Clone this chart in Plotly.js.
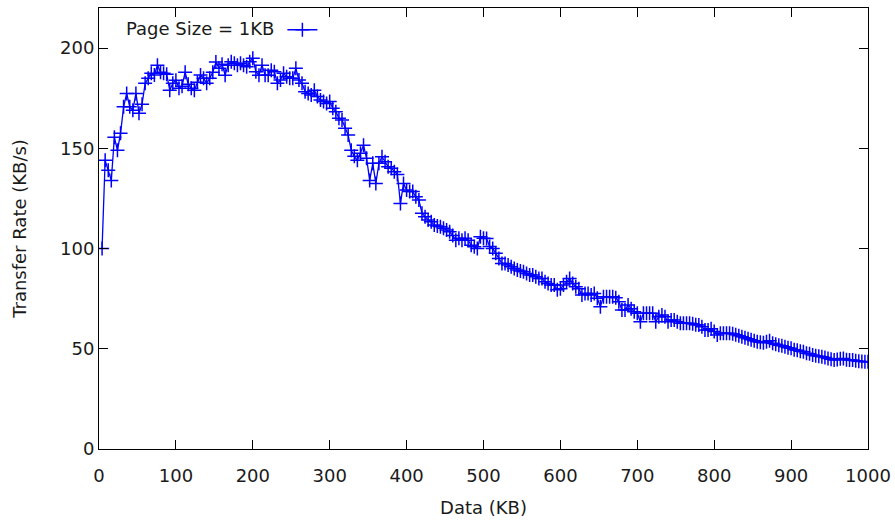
<!DOCTYPE html>
<html>
<head>
<meta charset="utf-8">
<script src="https://cdn.plot.ly/plotly-3.0.1.min.js"></script>
<style>
html,body{margin:0;padding:0;background:#fff;}
#chart{width:895px;height:520px;}
</style>
</head>
<body>
<div id="chart"></div>
<script>
// ---- data (Transfer Rate in KB/s, one reading every 4 KB of data, 4..1000 KB) ----
const seriesName = 'Page Size = 1KB';
const stepKB = 4;
const rate004to160 = [100, 144, 139, 134, 155.5, 149, 157.5, 170.7, 177.4, 170.7,
  169, 177.4, 167.5, 172, 182.4, 185, 187.4, 186.6, 191.5, 188,
  187.4, 187, 179, 182.4, 184, 180, 181, 188, 182, 180,
  179, 183, 186.6, 185, 182.4, 185, 188, 193, 190, 192];
const rate164to324 = [186.5, 191.5, 193.2, 192.4, 191.5, 192.4, 191.5, 190.7, 193.2, 194.9,
  188.2, 186.5, 191.5, 186.5, 186.5, 189, 188.2, 182.4, 184.1, 187.4,
  185.7, 184.9, 184.9, 189.9, 184.1, 182.4, 178.2, 177.4, 176.6, 179,
  175.8, 174.1, 173.3, 172.4, 173.3, 170, 168.3, 165, 164.1, 160,
  156.6];
const rate328to500 = [149, 146, 144, 147.5, 151.5, 145, 134, 142.5, 132.5, 142.5,
  145.8, 143.3, 140.8, 140, 138.3, 137, 122.5, 132.5, 129.2, 128.4,
  128.4, 125.8, 124.2, 117.6, 115.9, 114.2, 113.4, 111.7, 111.2, 110.9,
  110.1, 109.2, 108.4, 106.5, 104.2, 105.1, 104.2, 105.1, 104.2, 101.7,
  100.9, 100, 105.9, 105.1];
const rate504to668 = [105, 101, 100, 97.6, 95, 92.6, 92.6, 91.8, 90.9, 90.1,
  89.3, 88.8, 88.4, 87.6, 86.8, 86.8, 85.9, 85.1, 85.1, 83.4,
  82.6, 81.8, 81.8, 79.5, 80, 81.8, 83.4, 85, 82.6, 81,
  80, 76.8, 77.6, 77.6, 76.8, 77.6, 75.2, 71, 76, 76,
  76, 76];
const rate672to836 = [75.5, 73.5, 69.3, 69.3, 71.8, 70, 68.5, 67.7, 63.5, 67.7,
  67.7, 67.7, 67.7, 63.5, 66, 66.8, 66, 63.5, 64.3, 64.3,
  63.5, 62.7, 62.7, 62.7, 62.7, 62.5, 62, 61.8, 61, 59.4,
  59.4, 60, 58.6, 56.9, 57.7, 57.7, 57.7, 57.7, 57.5, 57,
  56.5, 56];
const rate840to1000 = [55.5, 55, 54.5, 54, 53.5, 53.3, 53, 53.5, 54, 52.7,
  52.2, 51.8, 51.5, 51, 50.5, 50.2, 49.5, 49.3, 48.8, 48.5,
  47.8, 47.5, 46.9, 46.5, 46.3, 46, 45.6, 45.2, 44.8, 44.4,
  44.6, 45, 45.2, 44.5, 44.4, 44.4, 44, 43.8, 43.6, 43.5,
  43.5];
const xTickVals = [0, 100, 200, 300, 400, 500, 600, 700, 800, 900, 1000];
const yTickVals = [0, 50, 100, 150, 200];
const xTitle = 'Data (KB)';
const yTitle = 'Transfer Rate (KB/s)';

const rates = [].concat(rate004to160, rate164to324, rate328to500, rate504to668, rate672to836, rate840to1000);
const dataKB = rates.map((_, i) => stepKB * (i + 1));

const FONT = 'DejaVu Sans, Liberation Sans, sans-serif';
const TXT = '#1a1a1a';
const FS = 18;

const trace = {
  x: dataKB,
  y: rates,
  type: 'scatter',
  mode: 'lines+markers',
  name: ' ',
  line: {color: '#0000ff', width: 1.3},
  marker: {symbol: 'cross-thin', size: 10, color: '#0000ff', line: {color: '#0000ff', width: 1.5}}
};

const axisBase = {
  showgrid: false, zeroline: false, showline: true, mirror: 'allticks',
  ticks: 'inside', ticklen: 9, tickwidth: 1, tickcolor: '#000',
  linecolor: '#000', linewidth: 1,
  tickfont: {family: FONT, size: FS, color: TXT}
};

const layout = {
  width: 895, height: 520,
  margin: {l: 99, r: 27, t: 8, b: 71},
  paper_bgcolor: '#fff', plot_bgcolor: '#fff',
  font: {family: FONT, size: FS, color: TXT},
  showlegend: true,
  legend: {
    x: 0.0325, y: 0.992, xanchor: 'left', yanchor: 'top',
    bgcolor: 'rgba(0,0,0,0)', borderwidth: 0,
    font: {family: FONT, size: FS, color: TXT},
    title: {text: seriesName, side: 'left', font: {family: FONT, size: FS, color: TXT}}
  },
  xaxis: Object.assign({}, axisBase, {
    range: [0, 1000], tickmode: 'array', tickvals: xTickVals, ticklabelstandoff: 10,
    title: {text: xTitle, font: {family: FONT, size: FS, color: TXT}, standoff: 16}
  }),
  yaxis: Object.assign({}, axisBase, {
    range: [0, 220], tickmode: 'array', tickvals: yTickVals,
    title: {text: yTitle, font: {family: FONT, size: FS, color: TXT}, standoff: 28}
  })
};

Plotly.newPlot('chart', [trace], layout, {displayModeBar: false, staticPlot: true});
</script>
</body>
</html>
